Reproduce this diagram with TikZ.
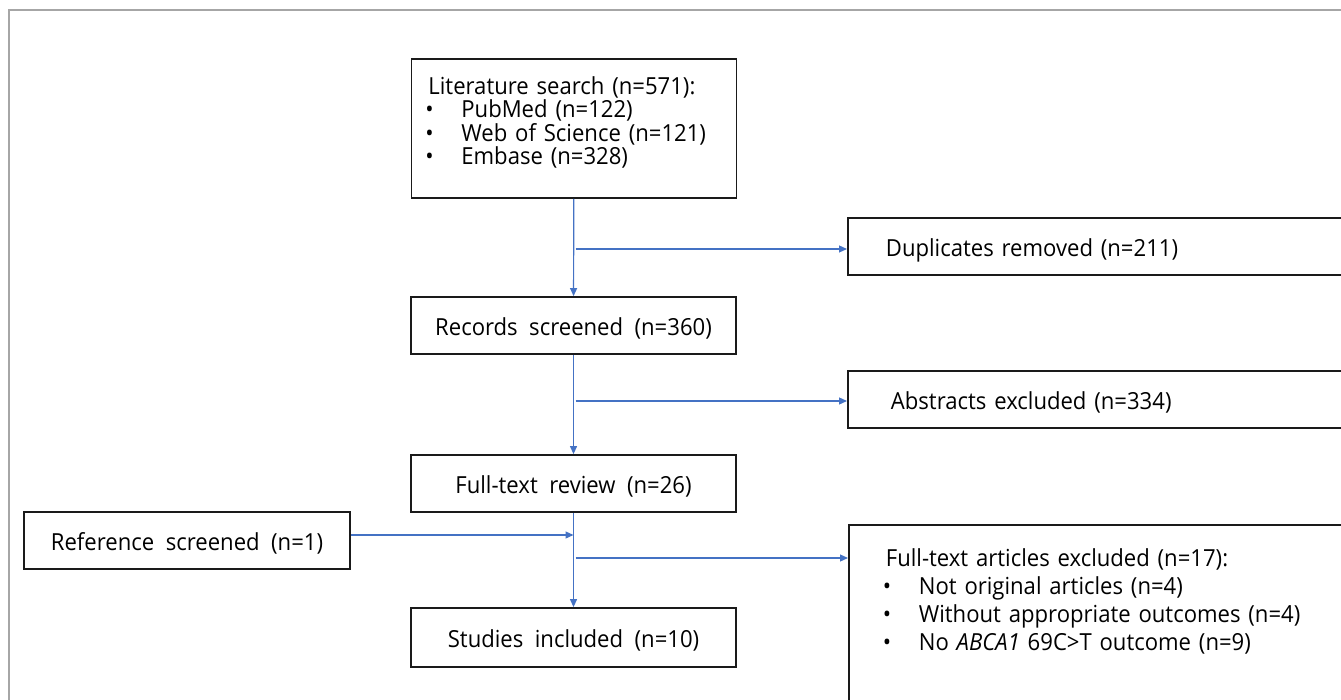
\documentclass[tikz,border=0pt]{standalone}
\usepackage{fontspec}
\setmainfont{Open Sans}[WordSpace=2.0,FakeStretch=0.94]
\usetikzlibrary{arrows.meta}
\definecolor{arrblue}{HTML}{4472C4}
\definecolor{framegray}{HTML}{A6A6A6}
\definecolor{boxline}{HTML}{1A1A1A}
\newcommand{\bul}{\makebox[33pt][l]{\hspace{-3pt}•}}
\begin{document}
\begin{tikzpicture}[x=1pt,y=-1pt,
  box/.style={draw=boxline, line width=1.8pt, inner sep=0pt, font=\fontsize{23.5}{26}\selectfont},
  one/.style={box, text height=20pt, text depth=0pt},
  cbox/.style={one, minimum width=325pt},
  lbox/.style={one, anchor=west, align=left, text width=520pt, minimum height=57pt},
  arr/.style={draw=arrblue, line width=1.2pt, -{Triangle[length=8pt,width=7pt]}}
]
\useasboundingbox (0,0) rectangle (1341,700);
\clip (0,0) rectangle (1341,700);
\draw[framegray, line width=2pt] (9,720) -- (9,10) -- (1360,10);

% central column
\node[box, anchor=north west, minimum width=325pt, minimum height=139pt, text width=291pt,
      inner xsep=17pt, align=left, font=\fontsize{23.5}{23.5}\selectfont] (lit) at (410.5,58)
  {\rule{0pt}{35.3pt}Literature search (n=571):\\
   \bul PubMed (n=122)\\
   \bul Web of Science (n=121)\\
   \bul Embase (n=328)\rule[-33pt]{0pt}{33pt}};
\node[cbox, minimum height=57pt] (rec) at (573.5,325.5) {Records screened (n=360)};
\node[cbox, minimum height=57pt] (full) at (573.5,483.5) {Full-text review (n=26)};
\node[cbox, minimum height=59pt] (stud) at (573.5,637.5) {Studies included (n=10)};

% left box
\node[one, minimum width=326pt, minimum height=57pt] (ref) at (187,540.5) {Reference screened (n=1)};

% right boxes
\node[lbox, inner xsep=38pt] (dup) at (847,246.5) {Duplicates removed (n=211)};
\node[lbox, inner xsep=43pt] (abs) at (847,399.5) {Abstracts excluded (n=334)};
\node[box, anchor=north west, align=left, text width=520pt, inner xsep=37pt, inner ysep=0pt,
      font=\fontsize{23.5}{28}\selectfont] (excl) at (848,524)
  {\rule{0pt}{42pt}Full-text articles excluded (n=17):\\
   \bul Not original articles (n=4)\\
   \bul Without appropriate outcomes (n=4)\\
   \bul No \textit{ABCA1} 69C>T outcome (n=9)\rule[-150pt]{0pt}{150pt}};

% connectors
\draw[arr] (lit) -- (rec);
\draw[arr] (rec) -- (full);
\draw[arr] (full) -- (stud);
\coordinate (j1) at (573.5,249);
\coordinate (j2) at (573.5,401);
\coordinate (j3) at (573.5,535);
\coordinate (j4) at (573.5,558);
\draw[arr] ([xshift=2pt]j1) -- (j1 -| dup.west);
\draw[arr] ([xshift=2pt]j2) -- (j2 -| abs.west);
\draw[arr] (ref.east |- j3) -- (j3);
\draw[arr] ([xshift=2pt]j4) -- (j4 -| excl.west);
\end{tikzpicture}
\end{document}
